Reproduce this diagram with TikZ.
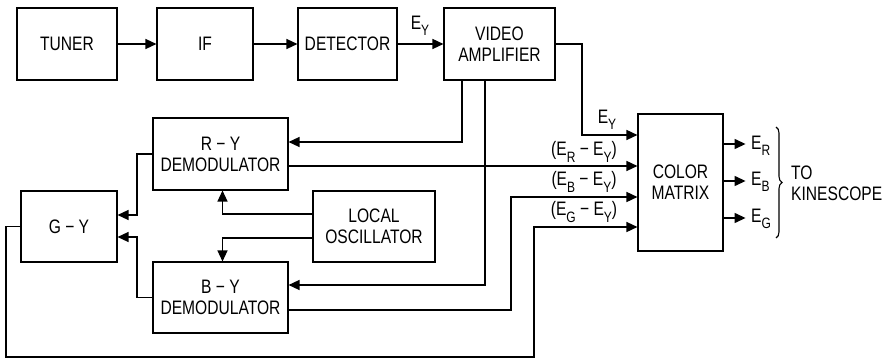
\documentclass[tikz,border=0pt]{standalone}
\usepackage{fontspec}
\setmainfont{Liberation Sans}[FakeStretch=0.8]
\usetikzlibrary{arrows.meta,decorations.pathreplacing}
\newcommand\sbs[1]{\raisebox{-0.6ex}{\fontsize{15}{15}\selectfont #1}}
\begin{document}
\begin{tikzpicture}[x=1pt,y=-1pt,
  blk/.style={draw,line width=1.1pt,rectangle,inner sep=0pt,align=center,
    font=\fontsize{19.5}{21}\selectfont},
  lbl/.style={font=\fontsize{19.5}{21}\selectfont,inner sep=0pt},
  wire/.style={line width=1.4pt},
  arr/.style={wire,-{Triangle[length=11pt,width=10pt]}}]
\useasboundingbox (0,0) rectangle (888,358);
% blocks
\node[blk,minimum width=100pt,minimum height=72pt] (tun) at (67,44) {TUNER};
\node[blk,minimum width=96pt,minimum height=72pt] (if) at (205,44) {IF};
\node[blk,minimum width=99pt,minimum height=72pt] (det) at (347.5,44) {DETECTOR};
\node[blk,minimum width=111pt,minimum height=72pt] (vid) at (499.5,44) {VIDEO\\AMPLIFIER};
\node[blk,minimum width=135pt,minimum height=72pt] (ry) at (220.5,154) {R − Y\\DEMODULATOR};
\node[blk,minimum width=135pt,minimum height=71pt] (by) at (220.5,297.5) {B − Y\\DEMODULATOR};
\node[blk,minimum width=122pt,minimum height=71pt] (lo) at (374,226.5) {LOCAL\\OSCILLATOR};
\node[blk,minimum width=96pt,minimum height=71pt] (gy) at (69,226.5) {G − Y};
\node[blk,minimum width=85pt,minimum height=137pt] (cm) at (680.5,182.5) {COLOR\\MATRIX};
% top chain
\draw[arr] (tun) -- (if);
\draw[arr] (if) -- (det);
\draw[arr] (det) -- (vid);
\node[lbl] (ey0) at (420,26) {E\sbs{Y}};
% video amp to demodulators
\coordinate (v1) at ([xshift=-37.5pt]vid.south);
\coordinate (r1) at ([yshift=12pt]ry.east);
\draw[arr] (v1) |- (r1);
\coordinate (v2) at ([xshift=-14.5pt]vid.south);
\coordinate (b1) at ([yshift=12.5pt]by.east);
\draw[arr] (v2) |- (b1);
% video amp to matrix (E_Y)
\coordinate (k1) at (582,135);
\draw[arr] (vid.east) -| (k1) -- (k1 -| cm.west);
\node[lbl] (ey1) at (607,120) {E\sbs{Y}};
% R-Y to matrix
\coordinate (ryo) at ([yshift=-12pt]ry.east);
\draw[arr] (ryo) -- (ryo -| cm.west);
\node[lbl] (erl) at (584,152) {(E\sbs{R} − E\sbs{Y})};
% B-Y to matrix
\coordinate (byo) at ([yshift=-12.5pt]by.east);
\coordinate (k2) at (511,197);
\draw[arr] (byo) -| (k2) -- (k2 -| cm.west);
\node[lbl] (ebl) at (584,182) {(E\sbs{B} − E\sbs{Y})};
% G-Y to matrix
\coordinate (k3b) at (6,357);
\coordinate (k3) at (534,227);
\draw[arr] (gy.west) -| (k3b) -| (k3) -- (k3 -| cm.west);
\node[lbl] (egl) at (584,212) {(E\sbs{G} − E\sbs{Y})};
% demodulators to G-Y
\coordinate (k4) at (137,0);
\coordinate (gi1) at ([yshift=11.5pt]gy.east);
\coordinate (gi2) at ([yshift=-10.5pt]gy.east);
\draw[arr] (ry.west) -| (k4 |- gi1) -- (gi1);
\draw[arr] (by.west) -| (k4 |- gi2) -- (gi2);
% local oscillator
\coordinate (lo1) at ([yshift=12.5pt]lo.west);
\coordinate (lo2) at ([yshift=-11.5pt]lo.west);
\coordinate (ryi) at ([xshift=2pt]ry.south);
\coordinate (byi) at ([xshift=2pt]by.north);
\draw[arr] (lo1) -| (ryi);
\draw[arr] (lo2) -| (byi);
% matrix outputs
\coordinate (o1) at ([yshift=38.5pt]cm.east);
\coordinate (o2) at ([yshift=1.5pt]cm.east);
\coordinate (o3) at ([yshift=-35.5pt]cm.east);
\coordinate (er) at ([xshift=22pt]o1);
\coordinate (eb) at ([xshift=22pt]o2);
\coordinate (eg) at ([xshift=22pt]o3);
\draw[arr] (o1) -- (er);
\draw[arr] (o2) -- (eb);
\draw[arr] (o3) -- (eg);
\node[lbl,anchor=west] (erT) at (751,146) {E\sbs{R}};
\node[lbl,anchor=west] (ebT) at (751,182) {E\sbs{B}};
\node[lbl,anchor=west] (egT) at (751,219) {E\sbs{G}};
\coordinate (br1) at (776,127);
\coordinate (br2) at (776,238);
\draw[line width=1.1pt,decorate,decoration={brace,amplitude=6pt}] (br1) -- (br2);
\node[lbl,anchor=west,align=left] (kin) at (791,183) {TO\\KINESCOPE};
\end{tikzpicture}
\end{document}
